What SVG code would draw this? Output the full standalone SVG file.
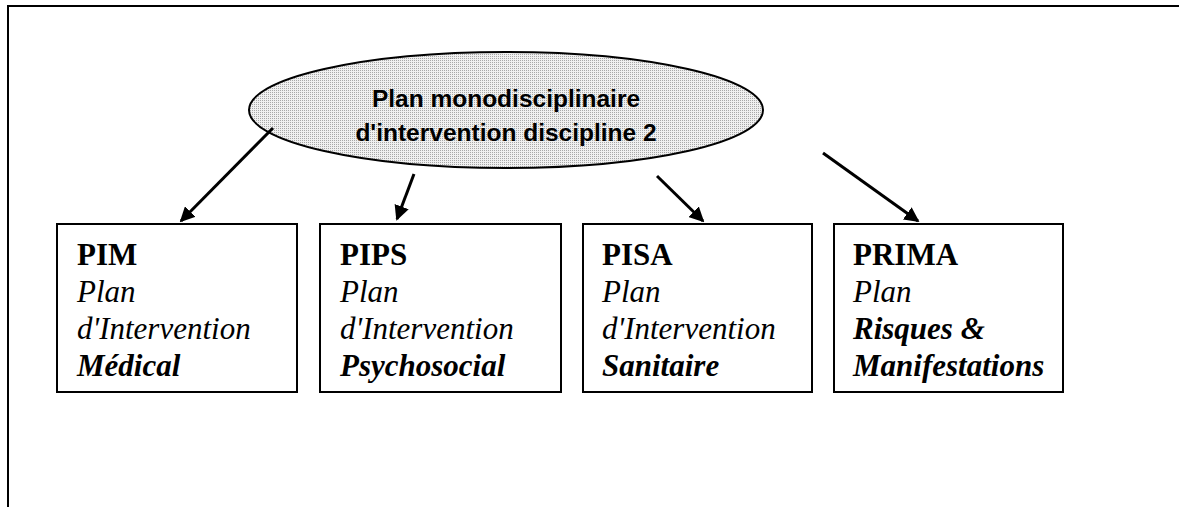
<svg xmlns="http://www.w3.org/2000/svg" width="1179" height="507" viewBox="0 0 1179 507">
<style>
.box{fill:#fff;stroke:#000;stroke-width:2}
.t{font-family:"Liberation Serif",serif;font-size:31px;fill:#000}
.b{font-weight:bold}
.i{font-style:italic}
.h{font-family:"Liberation Sans",Arial,sans-serif;font-weight:bold;font-size:24.5px;fill:#000;text-anchor:middle}
.c{stroke:#000;stroke-width:3;fill:none;marker-end:url(#ah)}
</style>
<defs>
<pattern id="dots" width="2" height="2" patternUnits="userSpaceOnUse">
<rect width="2" height="2" fill="#f0f0f0"/>
<rect width="1" height="1" fill="#a8a8a8"/>
</pattern>
<marker id="ah" markerWidth="5" markerHeight="5" refX="4.4" refY="2.5" orient="auto" markerUnits="strokeWidth">
<path d="M0,0 L5,2.5 L0,5 Z" fill="#000"/>
</marker>
</defs>
<rect x="8" y="6" width="1200" height="520" fill="#fff" stroke="#000" stroke-width="2"/>
<g id="root">
<ellipse cx="506" cy="110" rx="257" ry="58" fill="url(#dots)" stroke="#000" stroke-width="2"/>
<text class="h" x="506" y="107">Plan monodisciplinaire</text>
<text class="h" x="506" y="141">d'intervention discipline 2</text>
</g>
<g id="connectors">
<line class="c" x1="273" y1="128" x2="181" y2="221"/>
<line class="c" x1="414" y1="174" x2="397" y2="219"/>
<line class="c" x1="657" y1="176" x2="703" y2="221"/>
<line class="c" x1="823" y1="153" x2="918" y2="221"/>
</g>
<g id="pim">
<rect class="box" x="57" y="224" width="240" height="168"/>
<text class="t b" x="77" y="265">PIM</text>
<text class="t i" x="77" y="302">Plan</text>
<text class="t i" x="77" y="339">d'Intervention</text>
<text class="t i b" x="77" y="376">Médical</text>
</g>
<g id="pips">
<rect class="box" x="320" y="224" width="241" height="168"/>
<text class="t b" x="340" y="265">PIPS</text>
<text class="t i" x="340" y="302">Plan</text>
<text class="t i" x="340" y="339">d'Intervention</text>
<text class="t i b" x="340" y="376">Psychosocial</text>
</g>
<g id="pisa">
<rect class="box" x="583" y="224" width="229" height="168"/>
<text class="t b" x="602" y="265">PISA</text>
<text class="t i" x="602" y="302">Plan</text>
<text class="t i" x="602" y="339">d'Intervention</text>
<text class="t i b" x="602" y="376">Sanitaire</text>
</g>
<g id="prima">
<rect class="box" x="834" y="224" width="229" height="168"/>
<text class="t b" x="853" y="265">PRIMA</text>
<text class="t i" x="853" y="302">Plan</text>
<text class="t i b" x="853" y="339">Risques &amp;</text>
<text class="t i b" x="853" y="376">Manifestations</text>
</g>
</svg>
